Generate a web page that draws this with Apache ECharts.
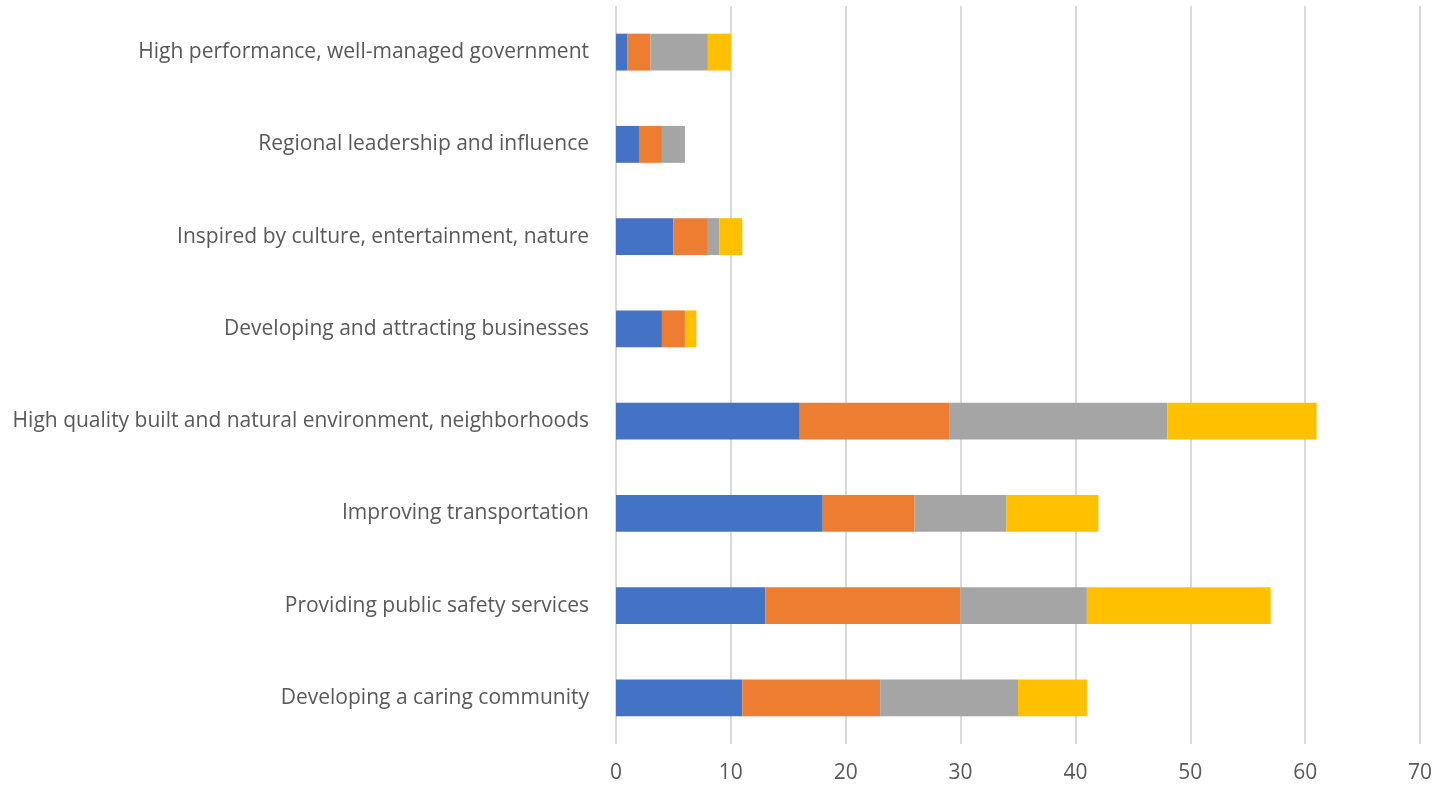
<!DOCTYPE html>
<html>
<head>
<meta charset="utf-8">
<script src="https://cdn.jsdelivr.net/npm/echarts@6/dist/echarts.min.js"></script>
<style>html,body{margin:0;padding:0;background:#fff;}#c{width:1440px;height:791px;}</style>
</head>
<body>
<div id="c"></div>
<script>
const categories = [
  "Developing a caring community",
  "Providing public safety services",
  "Improving transportation",
  "High quality built and natural environment, neighborhoods",
  "Developing and attracting businesses",
  "Inspired by culture, entertainment, nature",
  "Regional leadership and influence",
  "High performance, well-managed government"
];
const seriesBlue   = [11, 13, 18, 16, 4, 5, 2, 1];
const seriesOrange = [12, 17, 8, 13, 2, 3, 2, 2];
const seriesGray   = [12, 11, 8, 19, 0, 1, 2, 5];
const seriesYellow = [6, 16, 8, 13, 1, 2, 0, 2];
const xTicks = [0, 10, 20, 30, 40, 50, 60, 70];

const colors = ['#4472C4', '#ED7D31', '#A5A5A5', '#FFC000'];
const seriesData = [seriesBlue, seriesOrange, seriesGray, seriesYellow];
const names = ['Series 1', 'Series 2', 'Series 3', 'Series 4'];

const chart = echarts.init(document.getElementById('c'));
chart.setOption({
  animation: false,
  grid: { left: 616, right: 20, top: 6, bottom: 47, containLabel: false },
  xAxis: {
    type: 'value', min: xTicks[0], max: xTicks[xTicks.length - 1], interval: 10,
    axisLine: { show: false }, axisTick: { show: false },
    splitLine: { show: true, lineStyle: { color: '#D9D9D9', width: 2 } },
    axisLabel: { color: '#595959', fontSize: 21, fontFamily: 'Open Sans', margin: 19 }
  },
  yAxis: {
    type: 'category', data: categories,
    axisLine: { show: false }, axisTick: { show: false },
    axisLabel: { color: '#595959', fontSize: 21, fontFamily: 'Open Sans', margin: 27 }
  },
  series: seriesData.map((d, i) => ({
    name: names[i], type: 'bar', stack: 'total', data: d,
    barWidth: '40%', itemStyle: { color: colors[i] }
  }))
});
</script>
</body>
</html>
